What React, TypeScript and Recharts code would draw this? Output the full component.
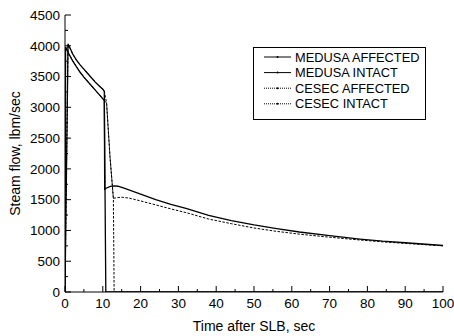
import React from 'react';
import { LineChart, Line, XAxis, YAxis, Legend } from 'recharts';

// ---- data (time in sec, steam flow in lbm/sec) ----
const medusaAffectedTime = [0, 0.15, 1, 2, 3, 4, 5, 6, 7, 8, 9, 10, 10.4, 10.8, 100];
const medusaAffectedFlow = [0, 3980, 3870, 3760, 3660, 3570, 3490, 3420, 3350, 3280, 3210, 3140, 3110, 0, 0];

const medusaIntactTime = [0, 0.8, 1.5, 2, 3, 4, 5, 6, 7, 8, 9, 10, 10.4, 10.5, 11, 12, 13, 14, 16, 18, 20, 24, 28, 32, 38, 44, 50, 56, 62, 70, 78, 84, 90, 100];
const medusaIntactFlow = [0, 4030, 3940, 3870, 3770, 3690, 3620, 3550, 3480, 3410, 3350, 3295, 3260, 1670, 1690, 1715, 1725, 1718, 1680, 1635, 1590, 1500, 1425, 1360, 1245, 1160, 1090, 1030, 975, 915, 860, 825, 800, 755];

const cesecAffectedTime = [0, 0.15, 1, 2, 3, 4, 5, 6, 7, 8, 9, 10, 10.4, 11, 11.9, 12.8, 13, 100];
const cesecAffectedFlow = [0, 3980, 3870, 3760, 3660, 3570, 3490, 3420, 3350, 3280, 3210, 3140, 3110, 3070, 2200, 1520, 0, 0];

const cesecIntactTime = [0, 0.8, 1.5, 2, 3, 4, 5, 6, 7, 8, 9, 10, 10.4, 11, 11.9, 12.8, 13.5, 15, 17, 20, 24, 28, 32, 38, 44, 50, 56, 62, 70, 78, 84, 90, 100];
const cesecIntactFlow = [0, 4030, 3940, 3870, 3770, 3690, 3620, 3550, 3480, 3410, 3350, 3295, 3260, 3070, 2200, 1520, 1530, 1540, 1525, 1480, 1415, 1350, 1290, 1185, 1110, 1040, 985, 940, 890, 845, 815, 790, 750];

const seriesNames = ['MEDUSA AFFECTED', 'MEDUSA INTACT', 'CESEC AFFECTED', 'CESEC INTACT'];
const seriesDashed = [false, false, true, true];

const xTicks = [0, 5, 10, 15, 20, 25, 30, 35, 40, 45, 50, 55, 60, 65, 70, 75, 80, 85, 90, 95, 100];
const yTicks = [0, 250, 500, 750, 1000, 1250, 1500, 1750, 2000, 2250, 2500, 2750, 3000, 3250, 3500, 3750, 4000, 4250, 4500];

const xTitle = 'Time after SLB, sec';
const yTitle = 'Steam flow, lbm/sec';

const toPoints = (ts: number[], vs: number[]) => ts.map((t, i) => ({ t, v: vs[i] }));
const seriesData = [
  toPoints(medusaAffectedTime, medusaAffectedFlow),
  toPoints(medusaIntactTime, medusaIntactFlow),
  toPoints(cesecAffectedTime, cesecAffectedFlow),
  toPoints(cesecIntactTime, cesecIntactFlow),
];

const FONT = '"Liberation Sans", Arial, Helvetica, sans-serif';
const DASH = '2.5 1.5';
const TICK_FS = 13.5;
const TITLE_FS = 14;
const LEGEND_FS = 12.8;

const BottomTick = (p: any) => {
  const major = p.payload.value % 10 === 0;
  return (
    <g>
      <line x1={p.x} x2={p.x} y1={p.y} y2={p.y - (major ? 6 : 3)} stroke="#000" strokeWidth={1} />
      {major && (
        <text x={p.x} y={p.y + 15.5} textAnchor="middle" fontSize={TICK_FS} fontFamily={FONT} fill="#000">
          {p.payload.value}
        </text>
      )}
    </g>
  );
};

const TopTick = (p: any) => {
  const major = p.payload.value % 10 === 0;
  return <line x1={p.x} x2={p.x} y1={p.y} y2={p.y + (major ? 5 : 3)} stroke="#000" strokeWidth={1} />;
};

const LeftTick = (p: any) => {
  const major = p.payload.value % 500 === 0;
  return (
    <g>
      <line x1={p.x} x2={p.x + (major ? 6 : 3)} y1={p.y} y2={p.y} stroke="#000" strokeWidth={1} />
      {major && (
        <text x={p.x - 5} y={p.y + 4.8} textAnchor="end" fontSize={TICK_FS} fontFamily={FONT} fill="#000">
          {p.payload.value}
        </text>
      )}
    </g>
  );
};

const RightTick = (p: any) => {
  const major = p.payload.value % 500 === 0;
  return <line x1={p.x} x2={p.x - (major ? 6 : 3)} y1={p.y} y2={p.y} stroke="#000" strokeWidth={1} />;
};

const LegendBox = () => (
  <svg width={174} height={74} style={{ display: 'block' }}>
    <rect x={0.5} y={0.5} width={172} height={72} fill="#fff" stroke="#000" strokeWidth={1} />
    {seriesNames.map((name, i) => {
      const cy = 10 + i * 15.6;
      return (
        <g key={name}>
          <line x1={11} x2={38} y1={cy} y2={cy} stroke="#000" strokeWidth={1} strokeDasharray={seriesDashed[i] ? '1 1' : undefined} />
          <circle cx={24.5} cy={cy} r={1} fill="#000" />
          <text x={42} y={cy + 4.5} fontSize={LEGEND_FS} fontFamily={FONT} fill="#000">{name}</text>
        </g>
      );
    })}
  </svg>
);

const YTitle = (props: any) => {
  const vb = props.viewBox;
  const cx = vb.x + 20;
  const cy = vb.y + vb.height / 2;
  return (
    <text x={cx} y={cy} transform={`rotate(-90 ${cx} ${cy})`} textAnchor="middle" fontSize={TITLE_FS} fontFamily={FONT} fill="#000">
      {yTitle}
    </text>
  );
};

const XTitle = (props: any) => {
  const vb = props.viewBox;
  return (
    <text x={vb.x + vb.width / 2} y={vb.y + 39} textAnchor="middle" fontSize={TITLE_FS} fontFamily={FONT} fill="#000">
      {xTitle}
    </text>
  );
};

export default function App() {
  return (
    <div style={{ position: 'absolute', left: 0, top: 0, width: 454, height: 336, background: '#fff' }}>
      <LineChart width={454} height={336} margin={{ top: 15, right: 11, bottom: 0, left: 0 }}>
        <XAxis
          dataKey="t"
          type="number"
          domain={[0, 100]}
          ticks={xTicks}
          interval={0}
          allowDataOverflow
          height={44}
          tickSize={0}
          tickMargin={0}
          tickLine={false}
          axisLine={{ stroke: '#000', strokeWidth: 1 }}
          tick={BottomTick}
          label={<XTitle />}
        />
        <XAxis
          xAxisId="top"
          orientation="top"
          type="number"
          domain={[0, 100]}
          ticks={xTicks}
          interval={0}
          allowDataOverflow
          height={0}
          tickSize={0}
          tickMargin={0}
          tickLine={false}
          axisLine={{ stroke: '#000', strokeWidth: 1 }}
          tick={TopTick}
        />
        <YAxis
          type="number"
          domain={[0, 4500]}
          ticks={yTicks}
          interval={0}
          allowDataOverflow
          width={65}
          tickSize={0}
          tickMargin={0}
          tickLine={false}
          axisLine={{ stroke: '#000', strokeWidth: 1 }}
          tick={LeftTick}
          label={<YTitle />}
        />
        <YAxis
          yAxisId="right"
          orientation="right"
          type="number"
          domain={[0, 4500]}
          ticks={yTicks}
          interval={0}
          allowDataOverflow
          width={0}
          tickSize={0}
          tickMargin={0}
          tickLine={false}
          axisLine={{ stroke: '#000', strokeWidth: 1 }}
          tick={RightTick}
        />
        <Legend
          layout="vertical"
          align="center"
          verticalAlign="middle"
          wrapperStyle={{ left: 253, top: 47, width: 174, height: 74 }}
          content={() => <LegendBox />}
        />
        {seriesData.map((d, i) => (
          <Line
            key={seriesNames[i]}
            name={seriesNames[i]}
            data={d}
            dataKey="v"
            type="linear"
            dot={false}
            stroke="#000"
            strokeWidth={seriesDashed[i] ? 1 : 1.3}
            strokeDasharray={seriesDashed[i] ? DASH : undefined}
            isAnimationActive={false}
          />
        ))}
      </LineChart>
    </div>
  );
}
